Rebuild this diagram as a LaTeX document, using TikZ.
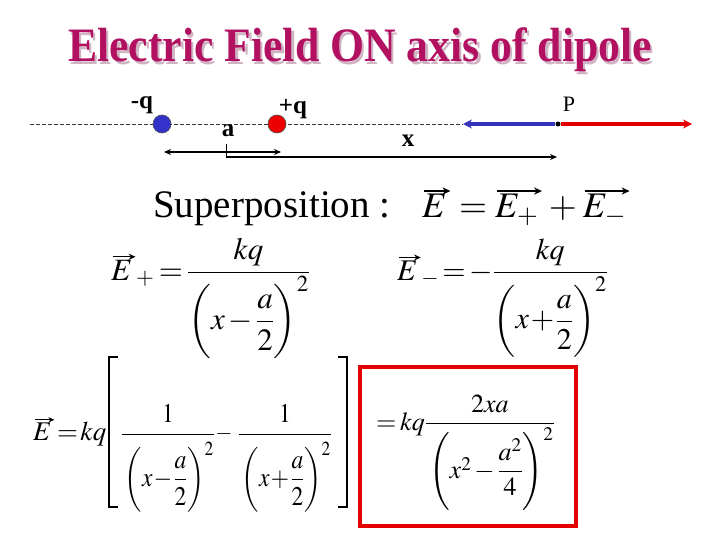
\documentclass[tikz,border=0pt]{standalone}
\usepackage{amsmath}
\usepackage{mathptmx}
\usepackage{fontspec}
\setmainfont{Liberation Serif}
\usetikzlibrary{arrows.meta}
\definecolor{titlecol}{RGB}{178,16,96}
\definecolor{shadowcol}{RGB}{208,180,196}
\definecolor{qblue}{RGB}{51,51,204}
\definecolor{qred}{RGB}{238,0,0}
\definecolor{arrblue}{RGB}{51,51,187}
\definecolor{arrred}{RGB}{228,0,0}
\newcommand{\vecar}[1]{\tikz[baseline=(vv.base)]{\node[inner sep=0pt,outer sep=0pt] (vv) {$#1$};
  \draw[line width=0.045em,-{Stealth[length=0.22em,width=0.2em]}] ([yshift=0.1em,xshift=0.05em]vv.north west) -- ([yshift=0.1em,xshift=0.1em]vv.north east);}}
\newcommand{\pst}[1]{\vcenter{\hbox{\rule{0pt}{#1}}}}
\newcommand{\tight}{\thickmuskip=2.5mu\medmuskip=2mu}
\newcommand{\tighter}{\thickmuskip=2mu\medmuskip=1mu}
\tikzset{
  charge/.style={circle,draw=black!70,line width=0.6pt,minimum size=18pt,inner sep=0pt},
  lbl/.style={font=\fontsize{25}{26}\selectfont\bfseries,inner sep=0pt},
  eq/.style={inner sep=0pt,font=\fontsize{31}{34}\selectfont},
  beq/.style={inner sep=0pt,font=\fontsize{27}{30}\selectfont},
  bfrac/.style={inner sep=0pt,font=\fontsize{27}{30}\selectfont,xscale=0.87,transform shape},
  brk/.style={line width=1.1pt},
  field/.style={line width=3.8pt,-{Stealth[length=9pt,width=9pt]}},
  dim/.style={line width=1.2pt,{Stealth[length=7pt,width=6pt]}-{Stealth[length=7pt,width=6pt]}}
}
\begin{document}
\begin{tikzpicture}[x=1pt,y=-1pt]
\useasboundingbox[fill=white] (0,0) rectangle (720,540);
% title
\node[text=shadowcol,font=\fontsize{48}{50}\selectfont\bfseries,inner sep=0pt,anchor=base,xscale=0.91,transform shape] (titleshadow) at (362.5,64.5) {Electric Field ON axis of dipole};
\node[text=titlecol,font=\fontsize{48}{50}\selectfont\bfseries,inner sep=0pt,anchor=base,xscale=0.91,transform shape] (title) at (360,62) {Electric Field ON axis of dipole};
% axis
\coordinate (axl) at (30,124);
\coordinate (bt) at (463,124);
\draw[dashed,dash pattern=on 3.5pt off 2.5pt,line width=0.7pt,black!80] (axl) -- (bt);
% charges
\node[charge,fill=qblue] (neg) at (162,124) {};
\node[charge,fill=qred] (pos) at (277,124) {};
\node[lbl,anchor=base] (negl) at (142,108.5) {-q};
\node[lbl,anchor=base] (posl) at (293,114) {+q};
\node[lbl,anchor=base] (al) at (228,137) {a};
\node[lbl,anchor=base] (xl) at (408,147) {x};
% point P
\node[circle,fill=black,inner sep=0pt,minimum size=5pt] (P) at (558,124) {};
\node[font=\fontsize{22}{24}\selectfont,inner sep=0pt,anchor=base] (Pl) at (569,112) {P};
\coordinate (rt) at (692,124);
\draw[field,arrblue] (P.west) -- (bt);
\draw[field,arrred] (P.east) -- (rt);
% dimensions
\coordinate (d1a) at (164,152);
\coordinate (d1b) at (281,152);
\coordinate (d2a) at (226,157);
\coordinate (d2b) at (557,157);
\coordinate (tk) at (226,144);
\draw[dim] (d1a) -- (d1b);
\draw[line width=1.2pt,-{Stealth[length=7pt,width=6pt]}] (d2a) -- (d2b);
\draw[line width=0.8pt] (tk) -- (d2a);
% superposition
\node[eq,anchor=base west,font=\fontsize{39}{42}\selectfont] (sup) at (153,218) {Superposition :};
\node[eq,anchor=base west,font=\fontsize{36}{40}\selectfont] (supeq) at (422,218) {$\thickmuskip=4mu\medmuskip=3mu \vecar{E}=\vecar{E_{+}}+\vecar{E_{-}}$};
% E+ and E-
\node[eq,anchor=base west] (ep) at (111,280) {$\displaystyle\tight \vecar{E}_{+}=\frac{kq}{\left(\pst{2.5em}x-\dfrac{a}{2}\right)^{2}}$};
\node[eq,anchor=base west,font=\fontsize{30}{34}\selectfont] (em) at (397,280) {$\displaystyle\tighter \vecar{E}_{-}=-\frac{kq}{\left(\pst{2.55em}x+\dfrac{a}{2}\right)^{2}}$};
% total
\node[beq,anchor=base west] (et) at (33,440) {$\thickmuskip=1.5mu\vecar{E}=kq$};
\draw[brk] (118,357) -- (109,357) -- (109,507) -- (118,507);
\node[bfrac,anchor=base] (f1) at (168,441) {$\displaystyle\tighter \frac{1}{\rule{0pt}{1.8em}\left(\pst{2.1em}x-\dfrac{a}{2}\right)^{2}}$};
\node[beq,anchor=base,font=\fontsize{22}{24}\selectfont] (mn) at (224,439.5) {$-$};
\node[bfrac,anchor=base] (f2) at (285,441) {$\displaystyle\tighter \frac{1}{\rule{0pt}{1.8em}\left(\pst{2.1em}x+\dfrac{a}{2}\right)^{2}}$};
\draw[brk] (338,357) -- (347,357) -- (347,507) -- (338,507);
% result
\node[beq,anchor=base west,font=\fontsize{26}{30}\selectfont] (res) at (376,430) {$\displaystyle\tight =kq\frac{2xa}{\rule{0pt}{1.9em}\left(\pst{3.0em}x^{2}-\dfrac{a^{2}}{4}\right)^{2}}$};
\draw[line width=4pt,arrred] (360,367) rectangle (576,526);
\end{tikzpicture}
\end{document}
